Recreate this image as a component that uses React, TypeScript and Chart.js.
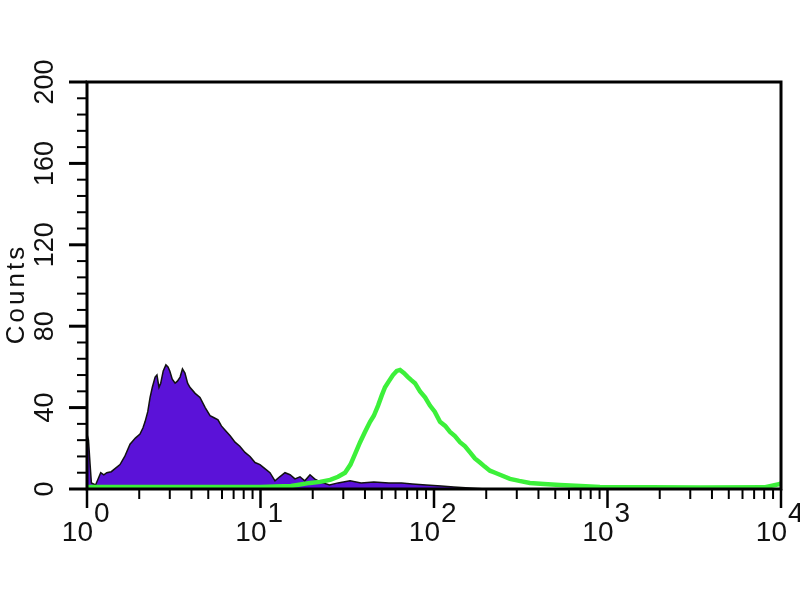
import React, { useEffect, useRef } from 'react';
import { Chart, registerables } from 'chart.js';

Chart.register(...registerables);

// isotype control (filled purple histogram)
const controlX = [
  1.0, 1.02, 1.04, 1.06, 1.12, 1.16, 1.2, 1.25, 1.3, 1.38, 1.45, 1.55, 1.65, 1.77, 1.9, 2.02, 2.1, 2.16,
  2.24, 2.31, 2.38, 2.47, 2.53, 2.6, 2.66, 2.75, 2.85, 2.93, 3.0, 3.1, 3.22, 3.32, 3.44, 3.55, 3.67, 3.8,
  3.92, 4.2, 4.48, 4.8, 5.12, 5.4, 5.69, 5.95, 6.24, 6.7, 7.13, 7.6, 8.14, 8.7, 9.3, 9.93, 10.6, 11.34,
  12.12, 12.9, 13.84, 14.8, 15.8, 16.89, 18, 19.29, 20.5, 22.03, 25, 28, 32.8, 38, 45, 55, 65, 75, 90,
  110, 130, 160, 200, 10000,
];
const controlCounts = [
  27, 24, 13, 3, 2, 5, 8, 7, 8, 8.5, 10, 12, 16, 22, 25, 27, 30, 33,
  38, 45, 50, 55, 56, 50, 52, 58, 61, 60, 58, 54, 52, 53, 55, 59, 57, 52,
  50, 47, 45, 40, 36, 35, 34, 31, 29, 26, 23, 21, 18, 16, 13, 12, 10, 8,
  4, 6, 8, 7, 5, 6, 4, 7, 5, 3.5, 2, 3, 4, 3, 3.5, 3, 3, 2.5, 2,
  1.5, 1, 0.5, 0, 0,
];

// stained sample (green outline)
const sampleX = [
  1.0, 5, 10, 15, 19.3, 22, 25.2, 28, 30.7, 33, 35, 37.5, 40, 42.8, 45, 47.6, 50, 52.2, 55, 58, 61,
  63.7, 67, 70.8, 74, 77.7, 83.1, 88.8, 94.8, 101, 108.3, 116, 123.7, 132, 141.2, 151, 161.3, 172,
  184, 196, 210, 225, 240, 274, 310, 357, 430, 532, 700, 905, 1758, 3415, 8000, 9866, 10000,
];
const sampleCounts = [
  1, 1, 1, 1.5, 3, 3.5, 4.5, 6, 8, 12, 17, 23, 28, 33, 36, 41, 46, 50, 53, 56, 58,
  58.5, 57, 55, 53.5, 52, 48, 45, 41, 38, 33, 31, 28, 26, 23, 21, 18, 15,
  13, 11, 9, 8, 7, 5, 4, 3, 2.5, 2, 1.5, 1, 0.8, 0.7, 0.8, 2.5, 3,
];

const yTicks = [0, 40, 80, 120, 160, 200];
const xDecades = [0, 1, 2, 3, 4];

const FONT = '"Liberation Sans", Arial, sans-serif';

const axesPlugin = {
  id: 'flowAxes',
  afterDatasetsDraw(chart: any) {
    const { ctx, chartArea: a, scales } = chart;
    const xs = scales.x;
    const ys = scales.y;
    ctx.save();
    ctx.strokeStyle = '#000';
    ctx.fillStyle = '#111';

    // y ticks: minor every 8, major every 40
    for (let v = 0; v <= 200; v += 8) {
      const py = ys.getPixelForValue(v);
      const major = v % 40 === 0;
      ctx.lineWidth = major ? 3 : 2;
      ctx.beginPath();
      ctx.moveTo(major ? a.left - 18 : a.left - 10, py);
      ctx.lineTo(a.left, py);
      ctx.stroke();
    }

    // x ticks: decades + 2..9
    for (let d = 0; d < 4; d++) {
      for (let m = 2; m <= 9; m++) {
        const px = xs.getPixelForValue(m * Math.pow(10, d));
        ctx.lineWidth = 2;
        ctx.beginPath();
        ctx.moveTo(px, a.bottom);
        ctx.lineTo(px, a.bottom + 10);
        ctx.stroke();
      }
    }
    xDecades.forEach((d) => {
      const px = xs.getPixelForValue(Math.pow(10, d));
      ctx.lineWidth = 2.5;
      ctx.beginPath();
      ctx.moveTo(px, a.bottom);
      ctx.lineTo(px, a.bottom + 19);
      ctx.stroke();
    });

    // frame
    ctx.lineWidth = 3;
    ctx.strokeRect(a.left, a.top, a.right - a.left, a.bottom - a.top);

    // y labels, rotated
    ctx.font = `27px ${FONT}`;
    ctx.textAlign = 'center';
    ctx.textBaseline = 'alphabetic';
    yTicks.forEach((v) => {
      const py = ys.getPixelForValue(v);
      ctx.save();
      ctx.translate(53, py);
      ctx.rotate(-Math.PI / 2);
      ctx.fillText(String(v), 0, 0);
      ctx.restore();
    });

    // axis title
    ctx.save();
    ctx.font = `26px ${FONT}`;
    (ctx as any).letterSpacing = '3px';
    ctx.translate(24, 294);
    ctx.rotate(-Math.PI / 2);
    ctx.fillText('Counts', 0, 0);
    ctx.restore();

    // x labels: 10 with raised exponent
    ctx.font = `28px ${FONT}`;
    xDecades.forEach((d) => {
      const px = xs.getPixelForValue(Math.pow(10, d));
      ctx.textAlign = 'right';
      ctx.fillText('10', px + 6, 541);
      ctx.textAlign = 'left';
      ctx.fillText(String(d), px + 7, 522);
    });
    ctx.restore();
  },
};

const App: React.FC = () => {
  const canvasRef = useRef<HTMLCanvasElement>(null);

  useEffect(() => {
    document.body.style.margin = '0';
    if (!canvasRef.current) return;
    const chart = new Chart(canvasRef.current, {
      type: 'line',
      data: {
        datasets: [
          {
            label: 'Sample',
            data: sampleX.map((x, i) => ({ x, y: sampleCounts[i] })),
            borderColor: '#3cf03a',
            borderWidth: 4.5,
            pointRadius: 0,
            fill: false,
            tension: 0,
            order: 0,
          },
          {
            label: 'Control',
            data: controlX.map((x, i) => ({ x, y: controlCounts[i] })),
            borderColor: '#111',
            borderWidth: 1.5,
            backgroundColor: '#5b12d8',
            pointRadius: 0,
            fill: 'origin',
            tension: 0,
            order: 1,
          },
        ],
      },
      options: {
        responsive: false,
        animation: false,
        devicePixelRatio: 1,
        layout: { padding: { left: 0, top: 82, right: 19, bottom: 0 } },
        plugins: { legend: { display: false }, tooltip: { enabled: false } },
        scales: {
          x: {
            type: 'logarithmic',
            min: 1,
            max: 10000,
            grid: { display: false },
            border: { display: false },
            ticks: { display: false },
            afterFit: (s: any) => { s.height = 111; },
          },
          y: {
            min: 0,
            max: 200,
            grid: { display: false },
            border: { display: false },
            ticks: { display: false },
            afterFit: (s: any) => { s.width = 87; },
          },
        },
      },
      plugins: [axesPlugin],
    });
    return () => chart.destroy();
  }, []);

  return (
    <div style={{ width: 800, height: 600, background: '#fff' }}>
      <canvas ref={canvasRef} width={800} height={600} style={{ width: 800, height: 600 }} />
    </div>
  );
};

export default App;
